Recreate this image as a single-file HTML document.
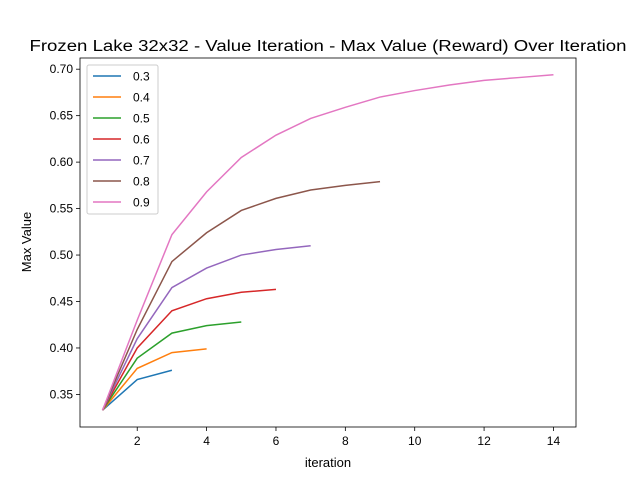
<!DOCTYPE html>
<html><head><meta charset="utf-8"><style>body{margin:0;background:#fff}svg{font-family:"Liberation Sans","DejaVu Sans",sans-serif}</style></head>
<body>
<svg id="chart" width="640" height="480" viewBox="0 0 640 480">
<rect width="640" height="480" fill="#fff"/>
<text x="328" y="51" font-size="15.5" text-anchor="middle" textLength="597" lengthAdjust="spacingAndGlyphs">Frozen Lake 32x32 - Value Iteration - Max Value (Reward) Over Iteration</text>
<g id="plot"></g>
<text x="328" y="467" font-size="13" text-anchor="middle">iteration</text>
<text x="31" y="242" font-size="13" text-anchor="middle" transform="rotate(-90 31 242)">Max Value</text>
</svg>
<script>
const seriesNames = ["0.3","0.4","0.5","0.6","0.7","0.8","0.9"];
const colors = ["#1f77b4","#ff7f0e","#2ca02c","#d62728","#9467bd","#8c564b","#e377c2"];
const s03 = [0.333,0.366,0.376];
const s04 = [0.333,0.378,0.395,0.399];
const s05 = [0.333,0.389,0.416,0.424,0.428];
const s06 = [0.333,0.400,0.440,0.453,0.460,0.463];
const s07 = [0.333,0.410,0.465,0.486,0.500,0.506,0.510];
const s08 = [0.333,0.420,0.493,0.524,0.548,0.561,0.570,0.575,0.579];
const s09 = [0.333,0.430,0.522,0.568,0.605,0.629,0.647,0.659,0.670,0.677,0.683,0.688,0.691,0.694];
const xTicks = [2,4,6,8,10,12,14];
const yTicks = [0.35,0.40,0.45,0.50,0.55,0.60,0.65,0.70];
const allSeries = [s03,s04,s05,s06,s07,s08,s09];

const L=80,R=576,T=58,B=427;
let maxN=0,ymin=Infinity,ymax=-Infinity;
allSeries.forEach(s=>{maxN=Math.max(maxN,s.length);s.forEach(v=>{ymin=Math.min(ymin,v);ymax=Math.max(ymax,v);});});
const xr=[1-(maxN-1)*0.05, maxN+(maxN-1)*0.05];
const yp=(ymax-ymin)*0.05, yr=[ymin-yp,ymax+yp];
const X=v=>L+(v-xr[0])/(xr[1]-xr[0])*(R-L);
const Y=v=>B-(v-yr[0])/(yr[1]-yr[0])*(B-T);
const NS="http://www.w3.org/2000/svg";
const g=document.getElementById('plot');
function mk(t,a){const e=document.createElementNS(NS,t);for(const k in a)e.setAttribute(k,a[k]);g.appendChild(e);return e;}
xTicks.forEach(t=>{
  const l=mk('line',{x1:X(t),x2:X(t),y1:B,y2:B+4,stroke:'#000','stroke-width':0.8});
  
  
  const tx=mk('text',{x:X(t),y:B+18,'font-size':12,'text-anchor':'middle'});tx.textContent=t;
  
  
});
yTicks.forEach(t=>{
  const l=mk('line',{x1:L-4,x2:L,y1:Y(t),y2:Y(t),stroke:'#000','stroke-width':0.8});
  
  
  const tx=mk('text',{x:L-7,y:Y(t)+4,'font-size':12,'text-anchor':'end'});tx.textContent=t.toFixed(2);
  
  
});
allSeries.forEach((s,i)=>{
  const p=mk('polyline',{points:s.map((v,j)=>X(j+1)+','+Y(v)).join(' '),fill:'none',stroke:colors[i],'stroke-width':1.5});
  
  
});
const fr=mk('rect',{x:L,y:T,width:R-L,height:B-T,fill:'none',stroke:'#000','stroke-width':0.8});


const lg=mk('rect',{x:87,y:65,width:71,height:149,rx:2,fill:'#fff','fill-opacity':0.8,stroke:'#ccc'});


seriesNames.forEach((n,i)=>{
  const y=76+i*21;
  const l=mk('line',{x1:93,x2:121,y1:y,y2:y,stroke:colors[i],'stroke-width':1.5});
  
  
  const t=mk('text',{x:133,y:y+4.5,'font-size':12});t.textContent=n;
  
  
});
</script>
</body></html>
